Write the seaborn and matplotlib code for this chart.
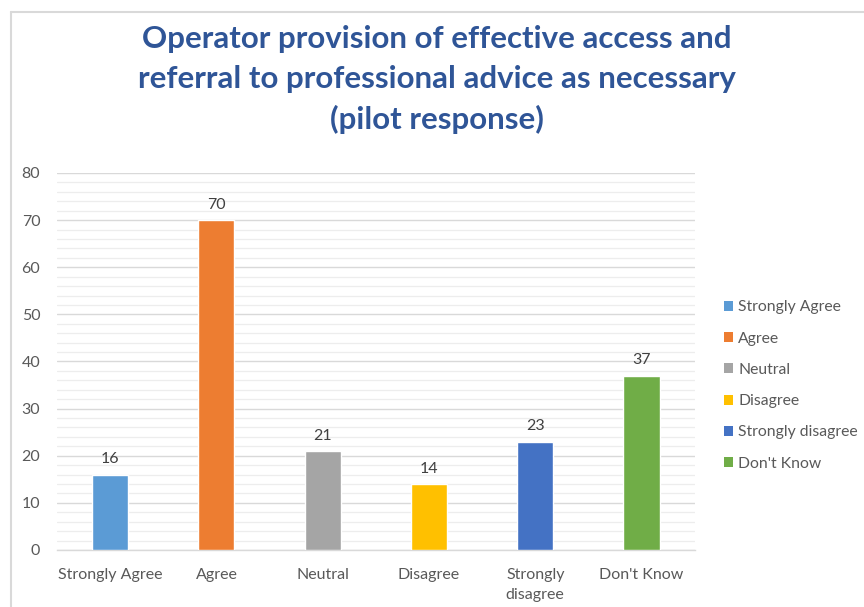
import matplotlib
matplotlib.use("Agg")
import matplotlib.pyplot as plt
from matplotlib.ticker import MultipleLocator
from matplotlib.patches import Patch
from matplotlib.lines import Line2D
import seaborn as sns
import pandas as pd

categories = ["Strongly Agree", "Agree", "Neutral", "Disagree", "Strongly disagree", "Don't Know"]
tick_labels = ["Strongly Agree", "Agree", "Neutral", "Disagree", "Strongly\ndisagree", "Don't Know"]
responses = [16, 70, 21, 14, 23, 37]
colors = ["#5B9BD5", "#ED7D31", "#A5A5A5", "#FFC000", "#4472C4", "#70AD47"]
title = "Operator provision of effective access and\nreferral to professional advice as necessary\n(pilot response)"

sns.set_theme(style="white")
plt.rcParams["font.family"] = ["Lato", "DejaVu Sans"]

df = pd.DataFrame({"category": categories, "count": responses})

fig = plt.figure(figsize=(8.64, 6.07), dpi=100)
ax = fig.add_axes([0.066, 0.094, 0.738, 0.621])

sns.barplot(data=df, x="category", y="count", hue="category", order=categories,
            hue_order=categories, palette=colors, width=0.34, legend=False,
            saturation=1, ax=ax, zorder=3)

ax.set_ylim(0, 80)
ax.yaxis.set_major_locator(MultipleLocator(10))
ax.yaxis.set_minor_locator(MultipleLocator(2))
ax.grid(which="major", axis="y", color="#D9D9D9", linewidth=1.0, zorder=0)
ax.grid(which="minor", axis="y", color="#EDEDED", linewidth=0.9, zorder=0)
ax.set_axisbelow(True)
for s in ["top", "right", "left"]:
    ax.spines[s].set_visible(False)
ax.spines["bottom"].set_color("#D9D9D9")
ax.spines["bottom"].set_linewidth(1.0)

ax.set_xticks(range(len(categories)))
ax.set_xticklabels(tick_labels, linespacing=1.55)
ax.tick_params(axis="both", which="both", length=0, labelsize=11.5, labelcolor="#595959")
ax.tick_params(axis="x", pad=13)
ax.tick_params(axis="y", pad=12)
ax.set_xlabel("")
ax.set_ylabel("")

for c in ax.containers:
    ax.bar_label(c, labels=[f"{v:.0f}" for v in c.datavalues], padding=6,
                 fontsize=11.5, color="#404040")

fig.text(0.506, 0.958, title, ha="center", va="top", fontsize=22.5, fontweight="bold",
         color="#2F5597", linespacing=1.5)

handles = [Patch(facecolor=col, edgecolor="none") for col in colors]
ax.legend(handles, categories, loc="center left", bbox_to_anchor=(1.036, 0.436),
          frameon=False, fontsize=11.3, labelcolor="#595959", handlelength=0.6,
          handleheight=0.6, handletextpad=0.3, labelspacing=1.1, borderaxespad=0)

# outer chart frame along the top and left edges
fig.add_artist(Line2D([11/864, 11/864], [0, 1 - 12/607], transform=fig.transFigure,
                      color="#D9D9D9", linewidth=1.5))
fig.add_artist(Line2D([11/864, 1], [1 - 12/607, 1 - 12/607], transform=fig.transFigure,
                      color="#D9D9D9", linewidth=1.5))

fig.savefig("out.png", dpi=100)
